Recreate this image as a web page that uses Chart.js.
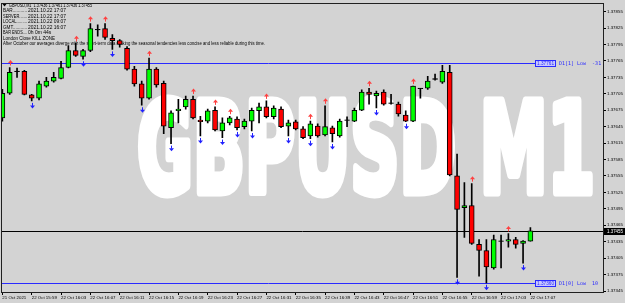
<!DOCTYPE html>
<html>
<head>
<meta charset="utf-8">
<script src="https://cdn.jsdelivr.net/npm/chart.js@4.4.0/dist/chart.umd.min.js"></script>
<style>
  html, body { margin: 0; padding: 0; background: #d3d3d3; overflow: hidden; }
</style>
</head>
<body>
<canvas id="chart" width="625" height="303"></canvas>
<script>
// GBPUSD M1 candles, 15:55 .. 17:07
const tickLabels = ['21 Oct 2021', '22 Oct 15:59', '22 Oct 16:03', '22 Oct 16:07', '22 Oct 16:11', '22 Oct 16:15',
  '22 Oct 16:19', '22 Oct 16:23', '22 Oct 16:27', '22 Oct 16:31', '22 Oct 16:35', '22 Oct 16:39', '22 Oct 16:43',
  '22 Oct 16:47', '22 Oct 16:51', '22 Oct 16:55', '22 Oct 16:59', '22 Oct 17:03', '22 Oct 17:07'];

const opens = [1.37661, 1.37706, 1.37746, 1.37746, 1.37703, 1.37697, 1.37719, 1.37728, 1.37733, 1.37753,
  1.37784, 1.37773, 1.37784, 1.37822, 1.37824, 1.37806, 1.37802, 1.37788, 1.37750, 1.37723,
  1.37697, 1.37750, 1.37724, 1.37643, 1.37674, 1.37681, 1.37695, 1.37657, 1.37655, 1.37675,
  1.37637, 1.37652, 1.37659, 1.37645, 1.37655, 1.37674, 1.37681, 1.37663, 1.37677, 1.37646,
  1.37654, 1.37641, 1.37628, 1.37646, 1.37630, 1.37643, 1.37628, 1.37657, 1.37655, 1.37675,
  1.37708, 1.37701, 1.37708, 1.37688, 1.37686, 1.37666, 1.37655, 1.37715, 1.37715, 1.37732,
  1.37726, 1.37744, 1.37555, 1.37497, 1.37501, 1.37430, 1.37419, 1.37387, 1.37436, 1.37436,
  1.37439, 1.37432, 1.37436];
const highs = [1.37713, 1.37753, 1.37752, 1.37748, 1.37704, 1.37728, 1.37735, 1.37744, 1.37764, 1.37793,
  1.37797, 1.37786, 1.37833, 1.37831, 1.37833, 1.37813, 1.37804, 1.37791, 1.37755, 1.37728,
  1.37770, 1.37753, 1.37728, 1.37674, 1.37695, 1.37701, 1.37701, 1.37664, 1.37677, 1.37681,
  1.37661, 1.37664, 1.37663, 1.37659, 1.37679, 1.37688, 1.37692, 1.37683, 1.37681, 1.37657,
  1.37657, 1.37645, 1.37655, 1.37650, 1.37683, 1.37646, 1.37659, 1.37663, 1.37679, 1.37712,
  1.37715, 1.37710, 1.37712, 1.37704, 1.37690, 1.37674, 1.37719, 1.37715, 1.37737, 1.37741,
  1.37757, 1.37757, 1.37595, 1.37543, 1.37541, 1.37439, 1.37439, 1.37447, 1.37447, 1.37450,
  1.37443, 1.37437, 1.37461];
const lows = [1.37655, 1.37704, 1.37735, 1.37703, 1.37692, 1.37694, 1.37717, 1.37726, 1.37732, 1.37752,
  1.37773, 1.37768, 1.37782, 1.37810, 1.37804, 1.37786, 1.37790, 1.37748, 1.37719, 1.37684,
  1.37695, 1.37717, 1.37632, 1.37614, 1.37652, 1.37677, 1.37659, 1.37628, 1.37652, 1.37637,
  1.37625, 1.37648, 1.37639, 1.37641, 1.37637, 1.37652, 1.37661, 1.37659, 1.37643, 1.37628,
  1.37639, 1.37623, 1.37623, 1.37626, 1.37628, 1.37617, 1.37626, 1.37645, 1.37654, 1.37674,
  1.37686, 1.37679, 1.37684, 1.37686, 1.37664, 1.37654, 1.37654, 1.37697, 1.37713, 1.37730,
  1.37724, 1.37555, 1.37370, 1.37443, 1.37430, 1.37372, 1.37360, 1.37385, 1.37387, 1.37425,
  1.37423, 1.37396, 1.37436];
const closes = [1.37706, 1.37744, 1.37746, 1.37704, 1.37697, 1.37723, 1.37728, 1.37735, 1.37753, 1.37784,
  1.37775, 1.37784, 1.37824, 1.37822, 1.37808, 1.37802, 1.37795, 1.37750, 1.37723, 1.37697,
  1.37750, 1.37721, 1.37646, 1.37670, 1.37677, 1.37695, 1.37661, 1.37654, 1.37674, 1.37639,
  1.37652, 1.37661, 1.37643, 1.37655, 1.37675, 1.37681, 1.37663, 1.37679, 1.37645, 1.37652,
  1.37641, 1.37625, 1.37650, 1.37628, 1.37645, 1.37632, 1.37655, 1.37657, 1.37675, 1.37708,
  1.37704, 1.37706, 1.37686, 1.37688, 1.37668, 1.37655, 1.37719, 1.37715, 1.37728, 1.37732,
  1.37746, 1.37557, 1.37494, 1.37501, 1.37432, 1.37419, 1.37389, 1.37439, 1.37436, 1.37439,
  1.37430, 1.37436, 1.37455];

// fractal-style arrows (bar indexes)
const upArrowBars = [1, 10, 12, 14, 20, 26, 29, 31, 36, 42, 44, 50, 56, 64, 69];
const downArrowBars = [4, 11, 15, 19, 23, 27, 30, 32, 34, 39, 42, 45, 51, 55, 62, 66, 71];

// horizontal levels
const prevDayLow = 1.37761;
const dayLow = 1.37360;
const bidPrice = 1.37455;
const yTicks = [1.37345, 1.37375, 1.37405, 1.37435, 1.37465, 1.37495, 1.37525, 1.37555, 1.37585,
  1.37615, 1.37645, 1.37675, 1.37705, 1.37735, 1.37765, 1.37795, 1.37825, 1.37855];

const infoLines = [
  ['BAR...........', '2021.10.22 17:07'],
  ['SERVER.......', '2021.10.22 17:07'],
  ['LOCAL.........', '2021.10.22 09:07'],
  ['GMT...........', '2021.10.22 16:07'],
  ['BAR ENDS....', '0h 0m 44s']
];
const headerText = 'GBPUSD,M1  1.37436 1.37461 1.37436 1.37455';
const killZoneText = 'London Close KILL ZONE';
const noteText = 'After October our averages diverge with the short-term data making the seasonal tendencies less concise and less reliable during this time.';

const idx = opens.map((_, i) => i);
const dojiHalf = 0.000006;
const bodyColors = idx.map(i => closes[i] > opens[i] ? '#00ff00' : (closes[i] < opens[i] ? '#ff0000' : '#000000'));
const bodyData = idx.map(i => ({
  x: i,
  y: opens[i] === closes[i] ? [opens[i] - dojiHalf, opens[i] + dojiHalf] : [opens[i], closes[i]]
}));
const wickData = idx.map(i => ({ x: i, y: [lows[i], highs[i]] }));

const FONT = '"Liberation Sans", Arial, sans-serif';

const terminalPlugin = {
  id: 'terminal',
  beforeDraw(chart) {
    const ctx = chart.ctx;
    ctx.save();
    ctx.fillStyle = '#d3d3d3';
    ctx.fillRect(0, 0, chart.width, chart.height);
    ctx.restore();
  },
  beforeDatasetsDraw(chart) {
    const { ctx, chartArea } = chart;
    const y = chart.scales.y;
    ctx.save();
    ctx.beginPath();
    ctx.rect(chartArea.left, chartArea.top, chartArea.right - chartArea.left, chartArea.bottom - chartArea.top);
    ctx.clip();

    // watermark
    ctx.save();
    ctx.font = 'bold 124px "DejaVu Sans"';
    const w = ctx.measureText('GBPUSD M1').width;
    ctx.translate(137, 192);
    ctx.scale(458 / w, 1);
    ctx.fillStyle = '#ffffff';
    ctx.strokeStyle = '#ffffff';
    ctx.lineWidth = 9;
    ctx.lineJoin = 'round';
    ctx.fillText('GBPUSD M1', 0, 0);
    ctx.strokeText('GBPUSD M1', 0, 0);
    ctx.restore();

    // info text
    ctx.fillStyle = '#000';
    ctx.textBaseline = 'middle';
    ctx.font = '5px ' + FONT;
    ctx.beginPath();
    ctx.moveTo(2.5, 4);
    ctx.lineTo(6.5, 4);
    ctx.lineTo(4.5, 6.5);
    ctx.fill();
    ctx.fillText(headerText, 9, 5.5, 83);
    infoLines.forEach((ln, k) => {
      const ty = 11 + k * 5.5;
      ctx.fillText(ln[0], 3, ty, 24);
      ctx.fillText(ln[1], 28, ty, 38);
    });
    ctx.fillText(killZoneText, 3, 38.5, 52);
    ctx.fillText(noteText, 3, 44, 262);

    // levels
    const blue = '#2a2aff';
    ctx.lineWidth = 1;
    ctx.strokeStyle = blue;
    [prevDayLow, dayLow].forEach(v => {
      const py = Math.round(y.getPixelForValue(v)) + 0.5;
      ctx.beginPath();
      ctx.moveTo(chartArea.left, py);
      ctx.lineTo(535, py);
      ctx.stroke();
    });
    ctx.strokeStyle = '#000';
    const by = Math.round(y.getPixelForValue(bidPrice)) + 0.5;
    ctx.beginPath();
    ctx.moveTo(chartArea.left, by);
    ctx.lineTo(chartArea.right, by);
    ctx.stroke();
    ctx.restore();
  },
  afterDatasetsDraw(chart) {
    const { ctx, chartArea } = chart;
    const x = chart.scales.x, y = chart.scales.y;
    ctx.save();

    // arrows
    upArrowBars.forEach(i => {
      const px = Math.round(x.getPixelForValue(i)) + 0.5;
      const py = y.getPixelForValue(highs[i]) - 2;
      ctx.strokeStyle = '#ff4040';
      ctx.fillStyle = '#ff4040';
      ctx.beginPath();
      ctx.moveTo(px, py);
      ctx.lineTo(px, py - 3);
      ctx.stroke();
      ctx.beginPath();
      ctx.moveTo(px - 2.5, py - 2.5);
      ctx.lineTo(px + 2.5, py - 2.5);
      ctx.lineTo(px, py - 5.5);
      ctx.fill();
    });
    downArrowBars.forEach(i => {
      const px = Math.round(x.getPixelForValue(i)) + 0.5;
      const py = y.getPixelForValue(lows[i]) + 2;
      ctx.strokeStyle = '#2020ff';
      ctx.fillStyle = '#2020ff';
      ctx.beginPath();
      ctx.moveTo(px, py);
      ctx.lineTo(px, py + 3);
      ctx.stroke();
      ctx.beginPath();
      ctx.moveTo(px - 2.5, py + 2.5);
      ctx.lineTo(px + 2.5, py + 2.5);
      ctx.lineTo(px, py + 5.5);
      ctx.fill();
    });

    // level labels
    const blue = '#2a2aff';
    [[prevDayLow, 'D1[1] Low  -31'], [dayLow, 'D1[0] Low  10']].forEach(([v, txt]) => {
      const py = Math.round(y.getPixelForValue(v));
      ctx.fillStyle = '#c8c8ff';
      ctx.fillRect(535, py - 3, 20, 7);
      ctx.strokeStyle = blue;
      ctx.strokeRect(535.5, py - 2.5, 20, 6);
      ctx.fillStyle = blue;
      ctx.font = '5px ' + FONT;
      ctx.textBaseline = 'middle';
      ctx.fillText(v.toFixed(5), 537, py + 0.5, 17);
      ctx.font = '5px "DejaVu Sans Mono", monospace';
      ctx.fillText(txt, 559, py + 0.5);
    });

    // frame
    ctx.strokeStyle = '#202020';
    ctx.lineWidth = 1;
    ctx.strokeRect(Math.round(chartArea.left) - 0.5, Math.round(chartArea.top) - 0.5,
      Math.round(chartArea.right - chartArea.left) + 1, Math.round(chartArea.bottom - chartArea.top) + 1);
    ctx.restore();
  },
  afterDraw(chart) {
    const { ctx, chartArea } = chart;
    const y = chart.scales.y;
    const py = Math.round(y.getPixelForValue(bidPrice));
    ctx.save();
    ctx.fillStyle = '#000';
    ctx.fillRect(chartArea.right + 1, py - 3, 21, 7);
    ctx.fillStyle = '#fff';
    ctx.font = '5px ' + FONT;
    ctx.textBaseline = 'middle';
    ctx.fillText(bidPrice.toFixed(5), chartArea.right + 4, py + 0.5, 16);
    ctx.restore();
  }
};

new Chart(document.getElementById('chart').getContext('2d'), {
  type: 'bar',
  data: {
    datasets: [
      {
        data: bodyData,
        backgroundColor: bodyColors,
        borderColor: '#000',
        borderWidth: 1,
        borderSkipped: false,
        barThickness: 5,
        grouped: false,
        order: 1
      },
      {
        data: wickData,
        backgroundColor: '#000',
        borderWidth: 0,
        barThickness: 1,
        grouped: false,
        order: 2
      }
    ]
  },
  options: {
    responsive: false,
    animation: false,
    devicePixelRatio: 1,
    layout: { padding: { top: 2, left: 2, right: 0, bottom: 0 } },
    plugins: { legend: { display: false }, tooltip: { enabled: false } },
    scales: {
      x: {
        type: 'linear',
        offset: false,
        min: -0.05,
        max: 81.9,
        grid: { drawOnChartArea: false, offset: false, tickLength: 3, color: '#000' },
        border: { display: false },
        afterBuildTicks: s => { s.ticks = tickLabels.map((_, k) => ({ value: k * 4 })); },
        afterFit: s => { s.height = 11; },
        ticks: {
          autoSkip: false,
          maxRotation: 0,
          align: 'start',
          padding: 0,
          color: '#000',
          font: { size: 4.4, family: FONT },
          callback: v => tickLabels[Math.round(v / 4)]
        }
      },
      y: {
        position: 'right',
        min: 1.373432,
        max: 1.378695,
        grid: { drawOnChartArea: false, tickLength: 3, color: '#000' },
        border: { display: true, color: '#000' },
        afterBuildTicks: s => { s.ticks = yTicks.map(v => ({ value: v })); },
        afterFit: s => { s.width = 22; },
        ticks: {
          padding: 1,
          color: '#000',
          font: { size: 4.4, family: FONT },
          callback: v => v.toFixed(5)
        }
      }
    }
  },
  plugins: [terminalPlugin]
});
</script>
</body>
</html>
